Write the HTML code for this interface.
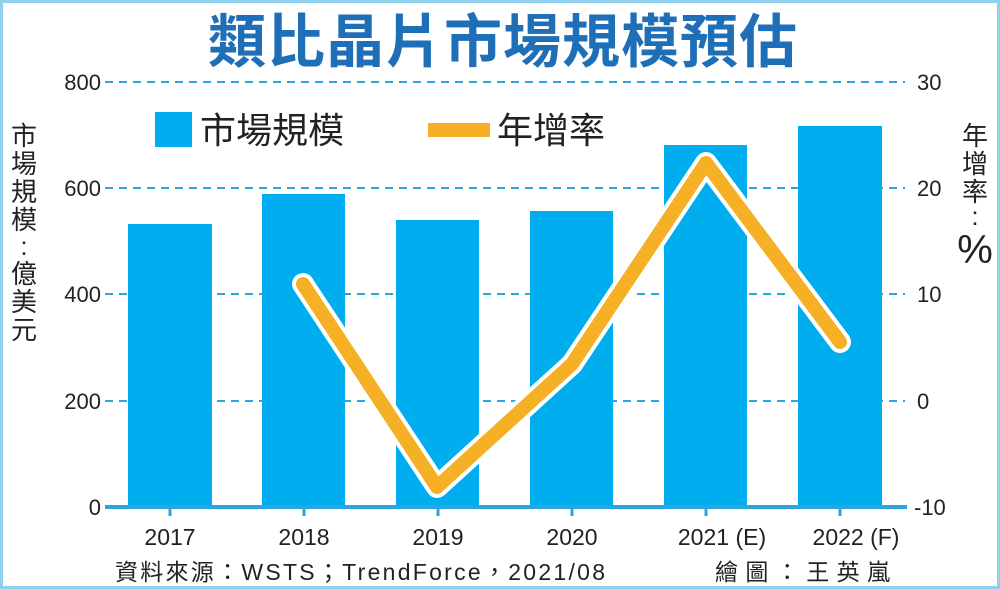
<!DOCTYPE html>
<html><head><meta charset="utf-8"><style>
body{margin:0;background:#fff}
svg{display:block}
text{font-family:"Liberation Sans","Noto Sans CJK TC",sans-serif}
</style></head><body>
<svg width="1000" height="589" viewBox="0 0 1000 589" xmlns="http://www.w3.org/2000/svg">
<rect x="1.5" y="1.5" width="997" height="586" fill="#fff" stroke="#8fd0f0" stroke-width="3"/>
<text x="503" y="62" text-anchor="middle" font-size="58" font-weight="bold" fill="#1e6fb8" letter-spacing="1">類比晶片市場規模預估</text>
<g stroke="#2aa6dc" stroke-width="2" stroke-dasharray="8,6">
<line x1="105" y1="82" x2="905" y2="82"/><line x1="105" y1="188" x2="905" y2="188"/>
<line x1="105" y1="294" x2="905" y2="294"/><line x1="105" y1="401" x2="905" y2="401"/>
</g>
<g fill="#00aeef">
<rect x="128" y="224" width="84" height="283"/><rect x="262" y="194" width="83" height="313"/>
<rect x="396" y="220" width="83" height="287"/><rect x="530" y="211" width="83" height="296"/>
<rect x="664" y="145" width="83" height="362"/><rect x="798" y="126" width="84" height="381"/>
</g>
<line x1="105" y1="507" x2="907" y2="507" stroke="#2aa6dc" stroke-width="4"/>
<g stroke="#2aa6dc" stroke-width="3">
<line x1="170" y1="507" x2="170" y2="516"/><line x1="304" y1="507" x2="304" y2="516"/><line x1="438" y1="507" x2="438" y2="516"/><line x1="572" y1="507" x2="572" y2="516"/><line x1="706" y1="507" x2="706" y2="516"/><line x1="840" y1="507" x2="840" y2="516"/>
</g>
<polyline points="303,284 437,487 572,364 706,163 840,342" fill="none" stroke="#fff" stroke-width="22" stroke-linejoin="round" stroke-linecap="round"/>
<polyline points="303,284 437,487 572,364 706,163 840,342" fill="none" stroke="#f5b025" stroke-width="14" stroke-linejoin="round" stroke-linecap="round"/>
<rect x="155" y="112" width="37" height="35" fill="#00aeef"/>
<text x="200" y="143" font-size="36" fill="#222">市場規模</text>
<line x1="428" y1="130" x2="490" y2="130" stroke="#f5b025" stroke-width="14"/>
<text x="497" y="143" font-size="36" fill="#222">年增率</text>
<g font-size="22" fill="#222" text-anchor="end">
<text x="101" y="90">800</text><text x="101" y="196">600</text><text x="101" y="302">400</text><text x="101" y="409">200</text><text x="101" y="515">0</text>
</g>
<g font-size="22" fill="#222">
<text x="917" y="90">30</text><text x="917" y="196">20</text><text x="917" y="302">10</text><text x="917" y="409">0</text><text x="914" y="515">-10</text>
</g>
<g font-size="23" fill="#222" text-anchor="middle">
<text x="170" y="545">2017</text><text x="304" y="545">2018</text><text x="438" y="545">2019</text><text x="572" y="545">2020</text><text x="722" y="545">2021 (E)</text><text x="856" y="545">2022 (F)</text>
</g>
<g font-size="26" fill="#222" text-anchor="middle">
<text x="24" y="145">市</text><text x="24" y="173">場</text><text x="24" y="201">規</text><text x="24" y="229">模</text><text x="24" y="255">:</text><text x="24" y="283">億</text><text x="24" y="311">美</text><text x="24" y="339">元</text>
<text x="975" y="145">年</text><text x="975" y="173">增</text><text x="975" y="201">率</text><text x="975" y="225">:</text>
<text x="975" y="263" font-size="40">%</text>
</g>
<text x="115" y="580" font-size="23" fill="#222" textLength="490" lengthAdjust="spacing">資料來源：WSTS；TrendForce，2021/08</text>
<text x="715" y="580" font-size="23" fill="#222" textLength="175" lengthAdjust="spacing">繪圖：王英嵐</text>
</svg>
</body></html>
